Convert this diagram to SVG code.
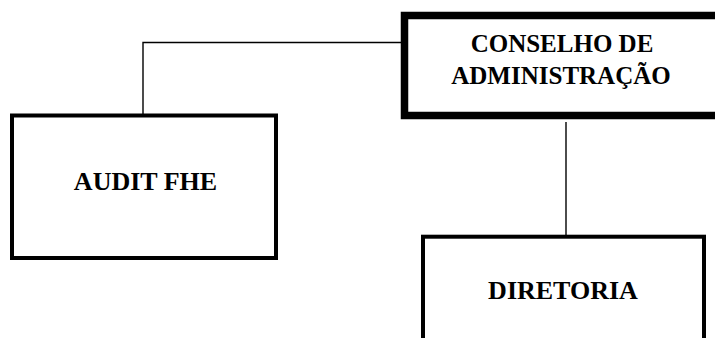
<svg xmlns="http://www.w3.org/2000/svg" width="715" height="338" viewBox="0 0 715 338">
<style>
.box{fill:#fff;stroke:#000}
.lbl{font-family:"Liberation Serif","Times New Roman",serif;font-weight:bold;font-size:25px;fill:#000;text-anchor:middle}
.conn{fill:none;stroke:#000;stroke-width:1.4}
</style>
<rect width="715" height="338" fill="#fff"/>
<g id="connectors">
<polyline class="conn" points="143,114 143,42.5 402,42.5"/>
<line class="conn" x1="566" y1="122" x2="566" y2="236"/>
</g>
<g id="conselho">
<rect class="box" x="404.5" y="15.5" width="320" height="100" stroke-width="7.5"/>
<text class="lbl" x="562" y="52">CONSELHO DE</text>
<text class="lbl" x="561" y="84">ADMINISTRAÇÃO</text>
</g>
<g id="audit">
<rect class="box" x="12" y="115.5" width="264" height="142.5" stroke-width="4"/>
<text class="lbl" x="145.5" y="190" style="font-size:26px">AUDIT FHE</text>
</g>
<g id="diretoria">
<rect class="box" x="423" y="236.7" width="281" height="140" stroke-width="4"/>
<text class="lbl" x="563" y="299" style="font-size:26px">DIRETORIA</text>
</g>
</svg>
